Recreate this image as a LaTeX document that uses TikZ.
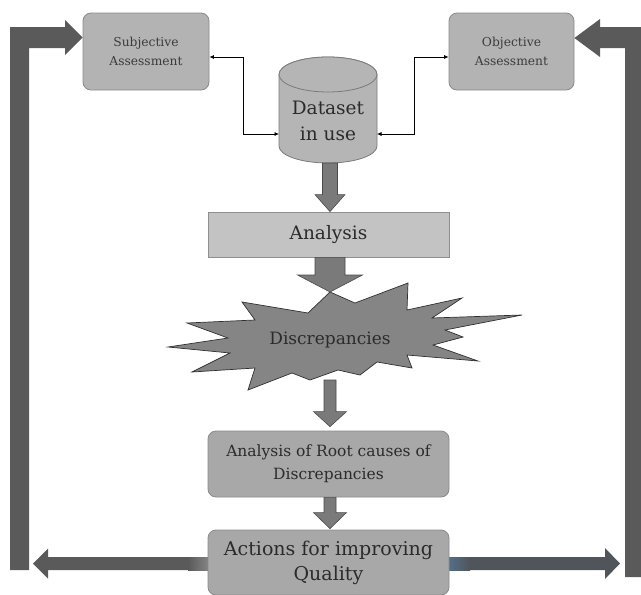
\documentclass[tikz,border=0pt]{standalone}
\usepackage{fontspec}
\setmainfont{DejaVu Serif}
\usetikzlibrary{calc,arrows.meta}
\definecolor{barC}{HTML}{5A5A5A}
\definecolor{barR}{HTML}{50555B}
\definecolor{steelC}{HTML}{557390}
\definecolor{lightbar}{HTML}{8C8C8C}
\definecolor{boxF}{HTML}{B3B3B3}
\definecolor{boxD}{HTML}{8A8A8A}
\definecolor{anaF}{HTML}{C3C3C3}
\definecolor{anaD}{HTML}{8F8F8F}
\definecolor{rootF}{HTML}{A8A8A8}
\definecolor{cylF}{HTML}{B5B5B5}
\definecolor{cylD}{HTML}{7A7A7A}
\definecolor{starF}{HTML}{858585}
\definecolor{starD}{HTML}{303030}
\definecolor{arrF}{HTML}{7A7A7A}
\definecolor{arrD}{HTML}{4A4A4A}
\definecolor{txt}{HTML}{2B2B2B}
\definecolor{txtl}{HTML}{3C3C3C}
\newcommand{\blockarrow}[5]{%
  \path[blk] let \p1=#1, \p2=#2 in
   (\x2-#3,\y1) -- (\x2-#3,\y2+#5) -- (\x2-#4,\y2+#5) -- (\x2,\y2)
   -- (\x2+#4,\y2+#5) -- (\x2+#3,\y2+#5) -- (\x2+#3,\y1) -- cycle;}
\begin{document}
\begin{tikzpicture}[x=1pt,y=1pt,
  box/.style={draw=boxD, fill=boxF, rounded corners=8pt, line width=0.8pt,
    align=center, inner sep=0pt, text=txt},
  conn/.style={line width=0.7pt,
    {Latex[length=4.5pt,width=4pt]}-{Latex[length=4.5pt,width=4pt]}},
  blk/.style={fill=arrF, draw=arrD, line width=0.6pt},
  bar/.style={fill=barC}]

\useasboundingbox (0,0) rectangle (641,-595);

% nodes
\node[box, minimum width=126pt, minimum height=77pt, text=txtl,
  font=\fontsize{12.3}{19}\selectfont] (subj) at (146,-51.5) {Subjective\\Assessment};
\node[box, minimum width=125pt, minimum height=77pt, text=txtl,
  font=\fontsize{12.3}{19}\selectfont] (obj) at (511.5,-51.5) {Objective\\Assessment};
\node[draw=anaD, fill=anaF, line width=0.8pt, minimum width=241pt, minimum height=45pt,
  inner sep=0pt, text=txt, font=\fontsize{18.5}{22}\selectfont] (analysis) at (328.5,-234.5) {Analysis};
\coordinate (s3) at (330,-292);
\coordinate (sB) at (330,-380);

% big return bars
\path[bar] (10,-570) -- (10,-27) -- (65,-27) -- (65,-20) -- (subj.west |- 0,-37.5)
  -- (65,-55) -- (65,-48) -- (29,-48) -- (29,-570) -- cycle;
\path[bar] (625,-577) -- (625,-48) -- (600,-48) -- (600,-57) -- (obj.east |- 0,-38)
  -- (600,-19) -- (600,-27) -- (645,-27) -- (645,-577) -- cycle;

% cylinder
\filldraw[fill=cylF, draw=cylD, line width=0.8pt] (279,-74.5) -- (279,-146)
  arc[start angle=180, end angle=360, x radius=49, y radius=17] -- (377,-74.5)
  arc[start angle=0, end angle=180, x radius=49, y radius=17.5] -- cycle;
\filldraw[fill=cylF, draw=cylD, line width=0.8pt] (328,-74.5) ellipse[x radius=49, y radius=17.5];
\node[text=txt, align=center, font=\fontsize{18.5}{26}\selectfont] (cyl) at (328,-121) {Dataset\\in use};
\coordinate (cylL) at (279,-134);
\coordinate (cylR) at (377,-134);
\coordinate (cylB) at (330,-163);

% thin connectors
\draw[conn] ($(subj.east)+(0,-5.5)$) -| (243,-134) -- (cylL);
\draw[conn] (cylR) -- (414,-134) |- ($(obj.west)+(0,-5.5)$);

% star
\filldraw[fill=starF, draw=starD, line width=0.7pt]
  (242,-302) -- (308,-313) -- (s3) -- (355,-303) -- (408,-283) -- (407,-310)
  -- (462,-298) -- (432,-318) -- (522,-315) -- (445,-330) -- (463,-337)
  -- (433,-345) -- (478,-361) -- (407,-355) -- (412,-368) -- (377,-362)
  -- (360,-375) -- (338,-370) -- (310,-380) -- (292,-373) -- (248,-390)
  -- (255,-368) -- (192,-372) -- (230,-353) -- (168,-347) -- (228,-338)
  -- (187,-323) -- (255,-320) -- cycle;
\node[text=txt, font=\fontsize{17}{20}\selectfont] (disc) at (330,-340) {Discrepancies};

\node[box, fill=rootF, minimum width=241pt, minimum height=66pt,
  font=\fontsize{15.5}{23}\selectfont] (root) at (328.5,-464) {Analysis of Root causes of\\Discrepancies};

% horizontal arrows from the actions box
\coordinate (ac) at (328.5,-562.5);
\path[bar] (ac |- 0,-557) -- (48,-557) -- (48,-548.5) -- (33,-563.5) -- (48,-578.5)
  -- (48,-570) -- (ac |- 0,-570) -- cycle;
\path[fill=barR] (ac |- 0,-557) -- (605,-557) -- (605,-548) -- (620,-563.5) -- (605,-579)
  -- (605,-570) -- (ac |- 0,-570) -- cycle;
\shade[left color=barC, right color=lightbar] (188,-557) rectangle (212,-570);
\shade[left color=steelC, right color=barR] (445,-557) rectangle (470,-570);

\node[box, fill=rootF, minimum width=241pt, minimum height=65pt,
  font=\fontsize{19}{25}\selectfont] (actions) at (ac) {Actions for improving\\Quality};

% block arrows
\blockarrow{(cylB)}{(analysis.north -| cylB)}{7.5}{15}{17}
\blockarrow{(analysis.south -| s3)}{(s3)}{15}{32.5}{17}
\blockarrow{(sB)}{($(root.north -| sB)+(0,4)$)}{6}{16.5}{15}
\blockarrow{(root.south -| s3)}{($(actions.north -| s3)+(0,1)$)}{6}{16.5}{16}
\end{tikzpicture}
\end{document}
